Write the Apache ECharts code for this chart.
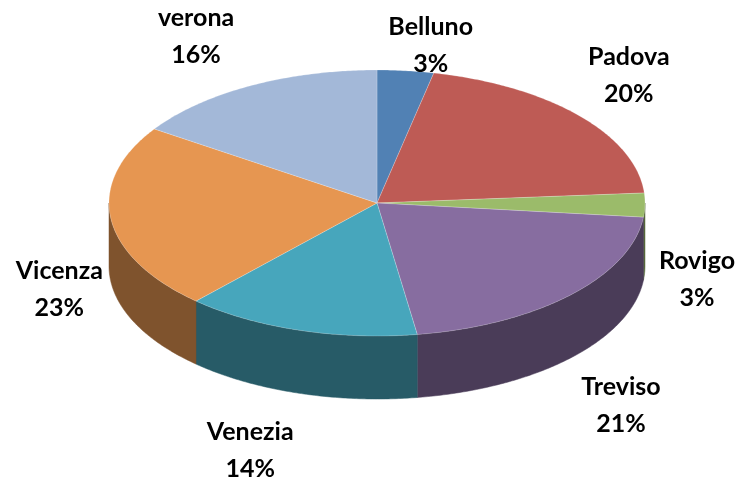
<!DOCTYPE html>
<html>
<head>
<meta charset="utf-8">
<script src="https://cdn.jsdelivr.net/npm/echarts@6/dist/echarts.min.js"></script>
<style>
  html, body { margin: 0; padding: 0; background: #fff; }
  #chart { width: 744px; height: 479px; }
</style>
</head>
<body>
<div id="chart"></div>
<script>
// data
const categories = ['Belluno', 'Padova', 'Rovigo', 'Treviso', 'Venezia', 'Vicenza', 'verona'];
const values = [3.4, 20.4, 2.9, 20.9, 14.2, 22.6, 15.6];
const colors = ['#5181B4', '#BE5B55', '#9BBB6A', '#876DA0', '#47A6BC', '#E69651', '#A3B8D8'];

// layout of the tilted pie
const cx = 377, cy = 203, rx = 268, ry = 133, depth = 63;

const total = values.reduce((a, b) => a + b, 0);
const starts = [], ends = [];
let acc = 0;
values.forEach(v => {
  starts.push(acc / total * Math.PI * 2);
  acc += v;
  ends.push(acc / total * Math.PI * 2);
});

function pt(t, dy) {
  return [cx + rx * Math.sin(t), cy - ry * Math.cos(t) + (dy || 0)];
}
function arc(a0, a1, dy) {
  const n = Math.max(2, Math.ceil((a1 - a0) / 0.01));
  const pts = [];
  for (let i = 0; i <= n; i++) pts.push(pt(a0 + (a1 - a0) * i / n, dy));
  return pts;
}
function shade(hex, k) {
  const n = parseInt(hex.slice(1), 16);
  const r = Math.round(((n >> 16) & 255) * k), g = Math.round(((n >> 8) & 255) * k), b = Math.round((n & 255) * k);
  return 'rgb(' + r + ',' + g + ',' + b + ')';
}

function renderSide(params) {
  const i = params.dataIndex;
  const lo = Math.max(starts[i], Math.PI / 2), hi = Math.min(ends[i], Math.PI * 1.5);
  if (lo >= hi) return null;
  const top = arc(lo, hi, 0);
  const bottom = arc(lo, hi, depth).reverse();
  return {
    type: 'polygon',
    shape: { points: top.concat(bottom) },
    style: { fill: shade(colors[i], 0.55), stroke: shade(colors[i], 0.55), lineWidth: 0.5 }
  };
}

function renderTop(params) {
  const i = params.dataIndex;
  const pts = [[cx, cy]].concat(arc(starts[i], ends[i], 0));
  return {
    type: 'polygon',
    shape: { points: pts },
    style: { fill: colors[i], stroke: 'rgba(255,255,255,0.35)', lineWidth: 0.6 }
  };
}

// labels sit outside the rim, lower when the slice faces the front
function renderLabel(params) {
  const i = params.dataIndex;
  const mid = (starts[i] + ends[i]) / 2;
  const s = Math.sin(mid), c = Math.cos(mid);
  const x = cx + s * (320 + 230 * Math.pow(1 - Math.abs(s), 2));
  const y = c >= 0 ? cy - (42 * c + 118 - 24 * s) : cy + 188 * (-c) + 69 + 4.5 * s;
  const pct = Math.round(values[i] / total * 100) + '%';
  return {
    type: 'text',
    style: {
      text: categories[i] + '\n' + pct,
      x: x, y: y,
      align: 'center', verticalAlign: 'middle',
      font: 'bold 25px Lato',
      lineHeight: 37,
      fill: '#000'
    }
  };
}

const chart = echarts.init(document.getElementById('chart'));
chart.setOption({
  backgroundColor: '#fff',
  animation: false,
  series: [
    { type: 'custom', coordinateSystem: 'none', silent: true, z: 1, data: values, renderItem: renderSide },
    { type: 'custom', coordinateSystem: 'none', silent: true, z: 2, data: values, renderItem: renderTop },
    { type: 'custom', coordinateSystem: 'none', silent: true, z: 3, data: values, renderItem: renderLabel }
  ]
});
</script>
</body>
</html>
